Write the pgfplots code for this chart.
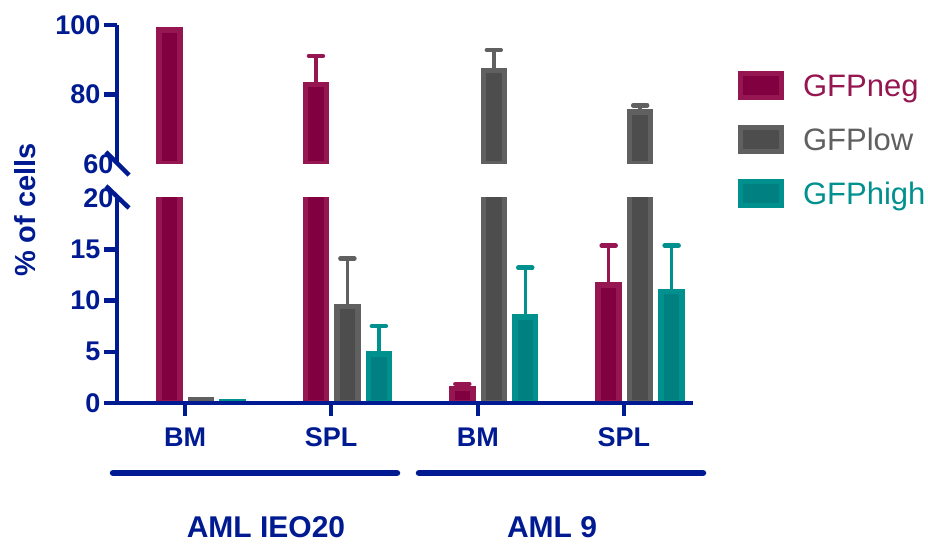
\documentclass[border=0pt]{standalone}
\usepackage{pgfplots}
\pgfplotsset{compat=1.18}
\usepackage{fontspec}
\setmainfont{Liberation Sans}
\definecolor{axisblue}{RGB}{0,26,145}
\definecolor{negIn}{RGB}{128,0,64}
\definecolor{negBd}{RGB}{149,22,80}
\definecolor{lowIn}{RGB}{77,77,77}
\definecolor{lowBd}{RGB}{96,96,96}
\definecolor{highIn}{RGB}{0,128,128}
\definecolor{highBd}{RGB}{0,145,142}
\pgfplotsset{
  brk/.style={
    scale only axis, width=576pt,
    xmin=-0.574, xmax=3.361,
    axis on top,
    axis line style={line width=4.5pt, color=axisblue},
    tick style={line width=4.5pt, color=axisblue},
    major tick length=13pt,
    tick align=outside,
    ticklabel style={font=\fontsize{27}{30}\selectfont\bfseries, text=axisblue},
  },
  barbase/.style={ybar, bar width=0.143, bar shift=0pt, line width=5.5pt, forget plot},
  barN/.style={barbase, fill=negIn, draw=negBd},
  barL/.style={barbase, fill=lowIn, draw=lowBd},
  barH/.style={barbase, fill=highIn, draw=highBd},
  errbase/.style={only marks, mark=none, forget plot, color=#1,
    error bars/.cd, y dir=plus, y explicit, error mark=|,
    error bar style={line width=3.5pt, color=#1},
    error mark options={line width=4.5pt, mark size=7pt, color=#1, line cap=round}},
}
\begin{document}
\begin{tikzpicture}[x=1pt,y=1pt]
\path[use as bounding box] (0,0) rectangle (928,544);

% lower segment 0-20
\begin{axis}[brk, at={(117pt,141pt)}, anchor=south west, height=205pt,
  ymin=0, ymax=20,
  axis x line*=bottom, axis y line*=left,
  ytick={0,5,10,15}, yticklabels={0,5,10,15},
  extra y ticks={20}, extra y tick labels={20},
  extra y tick style={major tick length=0pt},
  xtick={-0.109,0.888,1.892,2.889}, xticklabels={BM,SPL,BM,SPL},
  xticklabel style={yshift=-8pt}]
\addplot[barN] coordinates {(-0.215,98.6) (0.785,82.9) (1.785,1.4) (2.785,11.5)};
\addplot[barL] coordinates {(0,0.35) (1,9.4) (2,86.9) (3,75.0)};
\addplot[barH] coordinates {(0.215,0.1) (1.215,4.8) (2.215,8.4) (3.215,10.9)};
\addplot[errbase=negBd] coordinates {(1.785,1.4) +- (0,0.45) (2.785,11.5) +- (0,3.85)};
\addplot[errbase=lowBd] coordinates {(1,9.4) +- (0,4.7)};
\addplot[errbase=highBd] coordinates {(1.215,4.8) +- (0,2.7) (2.215,8.4) +- (0,4.8) (3.215,10.9) +- (0,4.45)};
\end{axis}

% upper segment 60-100
\begin{axis}[brk, at={(117pt,380pt)}, anchor=south west, height=139pt,
  ymin=60, ymax=100,
  axis y line*=left, axis x line=none,
  ytick={80,100}, yticklabels={80,100},
  extra y ticks={60}, extra y tick labels={60},
  extra y tick style={major tick length=0pt},
  legend style={at={(1.077,0.673)}, anchor=north west, draw=none, fill=none,
    inner sep=0pt, row sep=25pt, column sep=19.5pt,
    font=\fontsize{31}{34}\selectfont, nodes={inner sep=0pt, text height=22pt, text depth=0pt}},
  legend cell align=left]
\addplot[barN] coordinates {(-0.215,98.6) (0.785,82.9)};
\addplot[barL] coordinates {(2,86.9) (3,75.0)};
\addplot[errbase=negBd] coordinates {(0.785,82.9) +- (0,8.2)};
\addplot[errbase=lowBd] coordinates {(2,86.9) +- (0,5.9) (3,75.0) +- (0,1.9)};
\addlegendimage{legend image code/.code={\draw[fill=negIn,draw=negBd,line width=5pt] (2.5pt,-12pt) rectangle (43.5pt,12pt);}}
\addlegendentry{\textcolor{negBd}{GFPneg}}
\addlegendimage{legend image code/.code={\draw[fill=lowIn,draw=lowBd,line width=5pt] (2.5pt,-12pt) rectangle (43.5pt,12pt);}}
\addlegendentry{\textcolor{lowBd}{GFPlow}}
\addlegendimage{legend image code/.code={\draw[fill=highIn,draw=highBd,line width=5pt] (2.5pt,-12pt) rectangle (43.5pt,12pt);}}
\addlegendentry{\textcolor{highBd}{GFPhigh}}
\end{axis}

% axis break marks
\draw[axisblue, line width=4.5pt] (106,392) -- (129,369);
\draw[axisblue, line width=4.5pt] (106,358) -- (129,336);

% y label
\node[rotate=90, font=\fontsize{29}{32}\selectfont\bfseries, text=axisblue] at (25,334) {\% of cells};

% group brackets and labels
\draw[axisblue, line width=6.5pt, line cap=round] (113,71) -- (397,71);
\draw[axisblue, line width=6.5pt, line cap=round] (419,71) -- (703,71);
\node[anchor=base, font=\fontsize{30}{34}\selectfont\bfseries, text=axisblue] at (266,7) {AML IEO20};
\node[anchor=base, font=\fontsize{30}{34}\selectfont\bfseries, text=axisblue] at (552,7) {AML 9};
\end{tikzpicture}
\end{document}
